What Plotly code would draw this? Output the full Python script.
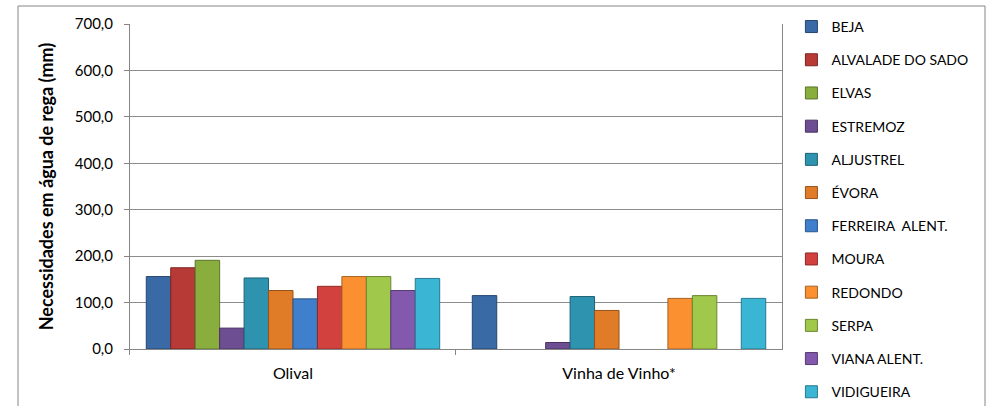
import plotly.graph_objects as go

categories = ["Olival", "Vinha de Vinho*"]

stations = [
    "BEJA", "ALVALADE DO SADO", "ELVAS", "ESTREMOZ", "ALJUSTREL", "ÉVORA",
    "FERREIRA  ALENT.", "MOURA", "REDONDO", "SERPA", "VIANA ALENT.", "VIDIGUEIRA",
]

olival = [156, 175, 191, 45, 153, 126, 108, 135, 156, 156, 126, 152]
vinha = [115, None, None, 14, 113, 83, None, None, 109, 115, None, 109]

colors = [
    "#3A6AA6", "#B83A37", "#8AAE3E", "#6E4E92", "#2E93AE", "#E07B28",
    "#3F7FCC", "#D3413F", "#FB9030", "#A0C84B", "#8259AC", "#3BB5D4",
]
edges = [
    "#24466F", "#7A2422", "#5B7429", "#4A3363", "#1D6276", "#96521A",
    "#295588", "#8E2A29", "#A8601F", "#6A8632", "#573B73", "#277890",
]

fig = go.Figure()
for i, name in enumerate(stations):
    fig.add_trace(go.Bar(
        x=categories,
        y=[olival[i], vinha[i]],
        name=name,
        legendgroup=name,
        marker=dict(color=colors[i], line=dict(color=edges[i], width=1)),
    ))

# the paper area is the outer chart frame; the plot sits inside it via domains
fig.update_layout(
    width=993,
    height=406,
    barmode="group",
    bargap=0.1,
    bargroupgap=0,
    separators=",.",
    paper_bgcolor="white",
    plot_bgcolor="white",
    font=dict(family="Lato", color="#000000", size=14),
    margin=dict(l=18, r=8, t=6, b=0, autoexpand=False),
    legend=dict(
        xref="container", yref="container",
        x=0.797, y=0.973, xanchor="left", yanchor="top",
        font=dict(size=14),
        tracegroupgap=12,
        itemwidth=30,
        maxheight=400,
        bgcolor="rgba(0,0,0,0)",
    ),
    yaxis=dict(
        domain=[0.1425, 0.955],
        range=[0, 700],
        dtick=100,
        tickformat=".1f",
        tickfont=dict(size=15),
        ticks="outside",
        ticklen=5,
        tickcolor="#868686",
        ticklabelstandoff=8,
        showline=True,
        linecolor="#868686",
        mirror=True,
        gridcolor="#8C8C8C",
        zeroline=False,
        automargin=False,
        title=dict(text="<b>Necessidades em água de rega (mm)</b>", font=dict(size=18), standoff=16),
    ),
    xaxis=dict(
        domain=[0.1158, 0.7901],
        tickfont=dict(size=16),
        ticks="outside",
        tickson="boundaries",
        ticklen=5,
        tickcolor="#868686",
        showline=True,
        linecolor="#868686",
        automargin=False,
        ticklabelstandoff=10,
    ),
    shapes=[dict(
        type="rect", xref="paper", yref="paper",
        x0=0, x1=1, y0=-0.01, y1=1,
        line=dict(color="#868686", width=1),
    )],
)

fig.write_html(
    "out.html",
    config={"displayModeBar": False},
    post_script="document.body.style.margin='0';document.body.style.overflow='hidden';",
)
